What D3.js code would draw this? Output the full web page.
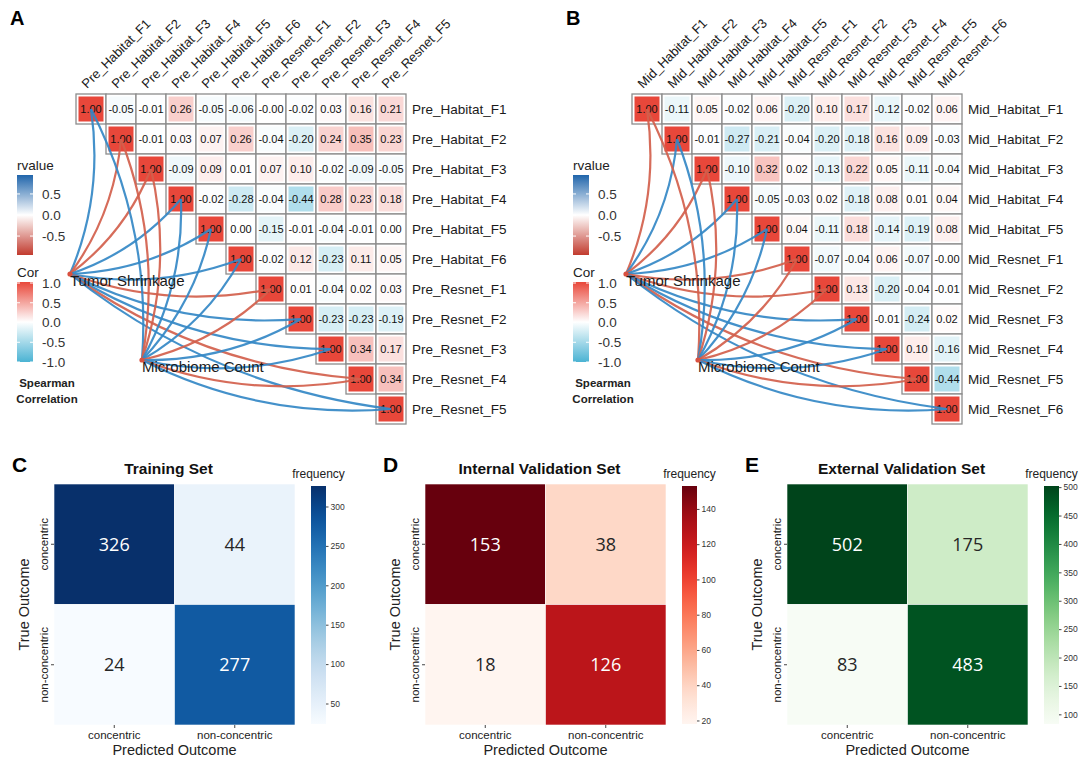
<!DOCTYPE html>
<html>
<head>
<meta charset="utf-8">
<script src="https://cdn.jsdelivr.net/npm/d3@7"></script>
<style>
	body { margin: 0; background: #fff; }
	svg { font-family: "Liberation Sans", Arial, sans-serif; }
</style>
</head>
<body>
<svg id="fig" width="1080" height="763"></svg>
<script>
// ---------- data : panels A and B (feature correlation, upper triangle rows) ----------
var preLabels = [ "Pre_Habitat_F1", "Pre_Habitat_F2", "Pre_Habitat_F3", "Pre_Habitat_F4", "Pre_Habitat_F5", "Pre_Habitat_F6",
	"Pre_Resnet_F1", "Pre_Resnet_F2", "Pre_Resnet_F3", "Pre_Resnet_F4", "Pre_Resnet_F5" ];

var preCor = [
	[ 1.00, -0.05, -0.01, 0.26, -0.05, -0.06, -0, -0.02, 0.03, 0.16, 0.21 ],
	[ 1.00, -0.01, 0.03, 0.07, 0.26, -0.04, -0.20, 0.24, 0.35, 0.23 ],
	[ 1.00, -0.09, 0.09, 0.01, 0.07, 0.10, -0.02, -0.09, -0.05 ],
	[ 1.00, -0.02, -0.28, -0.04, -0.44, 0.28, 0.23, 0.18 ],
	[ 1.00, 0.00, -0.15, -0.01, -0.04, -0.01, 0.00 ],
	[ 1.00, -0.02, 0.12, -0.23, 0.11, 0.05 ],
	[ 1.00, 0.01, -0.04, 0.02, 0.03 ],
	[ 1.00, -0.23, -0.23, -0.19 ],
	[ 1.00, 0.34, 0.17 ],
	[ 1.00, 0.34 ],
	[ 1.00 ]
];

var midLabels = [ "Mid_Habitat_F1", "Mid_Habitat_F2", "Mid_Habitat_F3", "Mid_Habitat_F4", "Mid_Habitat_F5",
	"Mid_Resnet_F1", "Mid_Resnet_F2", "Mid_Resnet_F3", "Mid_Resnet_F4", "Mid_Resnet_F5", "Mid_Resnet_F6" ];

var midCor = [
	[ 1.00, -0.11, 0.05, -0.02, 0.06, -0.20, 0.10, 0.17, -0.12, -0.02, 0.06 ],
	[ 1.00, -0.01, -0.27, -0.21, -0.04, -0.20, -0.18, 0.16, 0.09, -0.03 ],
	[ 1.00, -0.10, 0.32, 0.02, -0.13, 0.22, 0.05, -0.11, -0.04 ],
	[ 1.00, -0.05, -0.03, 0.02, -0.18, 0.08, 0.01, 0.04 ],
	[ 1.00, 0.04, -0.11, 0.18, -0.14, -0.19, 0.08 ],
	[ 1.00, -0.07, -0.04, 0.06, -0.07, -0 ],
	[ 1.00, 0.13, -0.20, -0.04, -0.01 ],
	[ 1.00, -0.01, -0.24, 0.02 ],
	[ 1.00, 0.10, -0.16 ],
	[ 1.00, -0.44 ],
	[ 1.00 ]
];

// links from the two outcomes to each feature (rvalue, estimated from line colour)
var linkNodes = [ "Tumor Shrinkage", "Microbiome Count" ];
var preLinkTumor = [ 0.4, -0.4, -0.4, 0.4, 0.4, 0.4, -0.4, 0.4, 0.4, -0.4, 0.4 ];
var preLinkMicrobe = [ 0.4, -0.4, -0.4, 0.4, 0.4, 0.4, -0.4, 0.4, 0.4, -0.4, 0.4 ];
var midLinkTumor = [ -0.4, 0.4, -0.4, 0.4, 0.4, -0.4, -0.4, 0.4, 0.4, -0.4, 0.4 ];
var midLinkMicrobe = [ -0.4, 0.4, -0.4, 0.4, 0.4, -0.4, -0.4, 0.4, 0.4, -0.4, 0.4 ];

var rvalueTicks = [ -0.5, 0, 0.5 ];
var corTicks = [ -1, -0.5, 0, 0.5, 1 ];

// ---------- data : panels C, D, E (confusion matrices) ----------
var cmLabels = [ "concentric", "non-concentric" ];
var trainCounts = [ [ 326, 44 ], [ 24, 277 ] ];
var internalCounts = [ [ 153, 38 ], [ 18, 126 ] ];
var externalCounts = [ [ 502, 175 ], [ 83, 483 ] ];
var trainTicks = [ 50, 100, 150, 200, 250, 300 ];
var internalTicks = [ 20, 40, 60, 80, 100, 120, 140 ];
var externalTicks = [ 100, 150, 200, 250, 300, 350, 400, 450, 500 ];

var svg = d3.select( "#fig" );
var defs = svg.append( "defs" );

var corColor = d3.scaleLinear()
	.domain( [ -1, 0, 1 ] )
	.range( [ "#4bb3d3", "#ffffff", "#e8473a" ] );

var rvalueColor = d3.scaleLinear()
	.domain( [ -0.95, 0, 0.95 ] )
	.range( [ "#c23b2e", "#ffffff", "#2065ab" ] );

var linkColor = d3.scaleThreshold()
	.domain( [ 0 ] )
	.range( [ "#d3604c", "#3488c6" ] );

function fmt( v ) {
	return ( Object.is( v, -0 ) ? "-" : "" ) + v.toFixed( 2 );
}

function gradient( id, scale, domain ) {
	var lg = defs.append( "linearGradient" )
		.attr( "id", id )
		.attr( "x1", 0 ).attr( "y1", 1 ).attr( "x2", 0 ).attr( "y2", 0 );
	d3.range( 0, 1.0001, 0.1 ).forEach( function( t ) {
		lg.append( "stop" )
			.attr( "offset", t )
			.attr( "stop-color", scale( domain[ 0 ] + t * ( domain[ 1 ] - domain[ 0 ] ) ) );
	} );
}
gradient( "gradR", rvalueColor, [ -0.95, 0.95 ] );
gradient( "gradCor", corColor, [ -1, 1 ] );

// ---------- correlation panel ----------
function corPanel( dx, letter, labels, cor, linkT, linkM ) {
	var g = svg.append( "g" ).attr( "transform", "translate(" + dx + ",0)" );
	var cell = 30, left = 76, top = 94;
	var n = labels.length;

	var x = d3.scaleBand().domain( labels ).range( [ left, left + n * cell ] );
	var y = d3.scaleBand().domain( labels ).range( [ top, top + n * cell ] );

	g.append( "text" )
		.attr( "x", 10 ).attr( "y", 25 )
		.style( "font-size", "20px" ).style( "font-weight", "bold" )
		.text( letter );

	var cells = [];
	cor.forEach( function( row, i ) {
		row.forEach( function( v, k ) {
			cells.push( { r: labels[ i ], c: labels[ i + k ], v: v } );
		} );
	} );

	g.selectAll( ".cellbg" )
		.data( cells )
		.enter().append( "rect" )
		.attr( "x", function( d ) { return x( d.c ); } )
		.attr( "y", function( d ) { return y( d.r ); } )
		.attr( "width", x.bandwidth() )
		.attr( "height", y.bandwidth() )
		.style( "fill", "#fff" )
		.style( "stroke", "#8c8c8c" )
		.style( "stroke-width", 1.3 );

	g.selectAll( ".cellfill" )
		.data( cells )
		.enter().append( "rect" )
		.attr( "x", function( d ) { return x( d.c ) + 2.5; } )
		.attr( "y", function( d ) { return y( d.r ) + 2.5; } )
		.attr( "width", x.bandwidth() - 5 )
		.attr( "height", y.bandwidth() - 5 )
		.style( "fill", function( d ) { return corColor( d.v ); } );

	g.selectAll( ".celltext" )
		.data( cells )
		.enter().append( "text" )
		.attr( "x", function( d ) { return x( d.c ) + x.bandwidth() / 2; } )
		.attr( "y", function( d ) { return y( d.r ) + y.bandwidth() / 2; } )
		.attr( "dy", "0.36em" )
		.attr( "text-anchor", "middle" )
		.style( "font-size", "11px" )
		.style( "fill", "#111" )
		.text( function( d ) { return fmt( d.v ); } );

	// column labels (rotated) and row labels
	g.selectAll( ".collab" )
		.data( labels )
		.enter().append( "text" )
		.attr( "transform", function( d ) {
			return "translate(" + ( x( d ) + cell / 2 - 4 ) + "," + ( top - 5 ) + ") rotate(-45)";
		} )
		.style( "font-size", "13px" )
		.style( "fill", "#1a1a1a" )
		.text( function( d ) { return d; } );

	g.selectAll( ".rowlab" )
		.data( labels )
		.enter().append( "text" )
		.attr( "x", left + n * cell + 6 )
		.attr( "y", function( d ) { return y( d ) + cell / 2; } )
		.attr( "dy", "0.36em" )
		.style( "font-size", "13.5px" )
		.style( "fill", "#1a1a1a" )
		.text( function( d ) { return d; } );

	// links from the outcome nodes to the diagonal
	var nodes = [ { name: linkNodes[ 0 ], x: 70, y: 274, r: linkT }, { name: linkNodes[ 1 ], x: 142, y: 360, r: linkM } ];
	var links = [];
	nodes.forEach( function( nd ) {
		labels.forEach( function( l, i ) {
			links.push( { x0: nd.x, y0: nd.y, x1: x( l ) + cell / 2, y1: y( l ) + cell / 2, r: nd.r[ i ] } );
		} );
	} );

	g.selectAll( ".link" )
		.data( links )
		.enter().append( "path" )
		.attr( "d", function( d ) {
			var ddx = d.x1 - d.x0, ddy = d.y1 - d.y0;
			var k = 0.14;
			var cx = ( d.x0 + d.x1 ) / 2 - ddy * k;
			var cy = ( d.y0 + d.y1 ) / 2 + ddx * k;
			var p = d3.path();
			p.moveTo( d.x0, d.y0 );
			p.quadraticCurveTo( cx, cy, d.x1, d.y1 );
			return p.toString();
		} )
		.style( "fill", "none" )
		.style( "stroke", function( d ) { return linkColor( d.r ); } )
		.style( "stroke-width", 2.2 )
		.style( "stroke-opacity", 0.92 );

	g.selectAll( ".node" )
		.data( nodes )
		.enter().append( "circle" )
		.attr( "cx", function( d ) { return d.x; } )
		.attr( "cy", function( d ) { return d.y; } )
		.attr( "r", 2.6 )
		.style( "fill", "#d9503f" );

	g.selectAll( ".nodelab" )
		.data( nodes )
		.enter().append( "text" )
		.attr( "x", function( d ) { return d.x; } )
		.attr( "y", function( d ) { return d.y + 12; } )
		.style( "font-size", "15px" )
		.style( "fill", "#1a1a1a" )
		.text( function( d ) { return d.name; } );

	// legends
	var lx = 17, bw = 16;
	g.append( "text" ).attr( "x", lx ).attr( "y", 170 ).style( "font-size", "13.5px" ).style( "fill", "#222" ).text( "rvalue" );
	g.append( "rect" ).attr( "x", lx ).attr( "y", 175 ).attr( "width", bw ).attr( "height", 80 ).style( "fill", "url(#gradR)" );
	var ry = d3.scaleLinear().domain( [ -0.95, 0.95 ] ).range( [ 255, 175 ] );
	legendAxis( g, ry, rvalueTicks, lx, bw );

	g.append( "text" ).attr( "x", lx ).attr( "y", 277 ).style( "font-size", "13.5px" ).style( "fill", "#222" ).text( "Cor" );
	g.append( "rect" ).attr( "x", lx ).attr( "y", 282 ).attr( "width", bw ).attr( "height", 80 ).style( "fill", "url(#gradCor)" );
	var cy = d3.scaleLinear().domain( [ -1, 1 ] ).range( [ 362, 283 ] );
	legendAxis( g, cy, corTicks, lx, bw );

	g.append( "text" ).attr( "x", 47 ).attr( "y", 387 ).attr( "text-anchor", "middle" )
		.style( "font-size", "11.5px" ).style( "font-weight", "bold" ).style( "fill", "#222" ).text( "Spearman" );
	g.append( "text" ).attr( "x", 47 ).attr( "y", 403 ).attr( "text-anchor", "middle" )
		.style( "font-size", "11.5px" ).style( "font-weight", "bold" ).style( "fill", "#222" ).text( "Correlation" );
}

function legendAxis( g, scale, ticks, lx, bw ) {
	var ax = g.append( "g" )
		.attr( "transform", "translate(" + ( lx + bw ) + ",0)" )
		.call( d3.axisRight( scale ).tickValues( ticks ).tickSize( 0 ).tickPadding( 9 )
			.tickFormat( function( d ) { return d.toFixed( 1 ); } ) );
	ax.select( ".domain" ).remove();
	ax.selectAll( "text" ).style( "font-size", "13.5px" ).style( "fill", "#333" ).style( "font-family", "Liberation Sans, Arial, sans-serif" );
	g.selectAll( null )
		.data( ticks )
		.enter().append( "line" )
		.attr( "x1", lx ).attr( "x2", lx + 3 )
		.attr( "y1", function( d ) { return scale( d ); } )
		.attr( "y2", function( d ) { return scale( d ); } )
		.style( "stroke", "#fff" );
	g.selectAll( null )
		.data( ticks )
		.enter().append( "line" )
		.attr( "x1", lx + bw - 3 ).attr( "x2", lx + bw )
		.attr( "y1", function( d ) { return scale( d ); } )
		.attr( "y2", function( d ) { return scale( d ); } )
		.style( "stroke", "#fff" );
}

corPanel( 0, "A", preLabels, preCor, preLinkTumor, preLinkMicrobe );
corPanel( 556, "B", midLabels, midCor, midLinkTumor, midLinkMicrobe );

// ---------- confusion matrix panel ----------
function cmPanel( left, letterX, letter, title, counts, interp, ticks ) {
	var g = svg.append( "g" );
	var top = 484, size = 241;

	var x = d3.scaleBand().domain( cmLabels ).range( [ left, left + size ] );
	var y = d3.scaleBand().domain( cmLabels ).range( [ top, top + size ] );

	var flat = [];
	counts.forEach( function( row, i ) {
		row.forEach( function( v, j ) {
			flat.push( { t: cmLabels[ i ], p: cmLabels[ j ], v: v } );
		} );
	} );
	var ext = d3.extent( flat, function( d ) { return d.v; } );
	var color = d3.scaleSequential( interp ).domain( ext );

	g.append( "text" ).attr( "x", letterX ).attr( "y", 472 )
		.style( "font-size", "21px" ).style( "font-weight", "bold" ).text( letter );
	g.append( "text" ).attr( "x", left + size / 2 - 6 ).attr( "y", 474 ).attr( "text-anchor", "middle" )
		.style( "font-size", "15.5px" ).style( "font-weight", "bold" ).style( "fill", "#111" ).text( title );

	g.selectAll( ".cm" )
		.data( flat )
		.enter().append( "rect" )
		.attr( "x", function( d ) { return x( d.p ); } )
		.attr( "y", function( d ) { return y( d.t ); } )
		.attr( "width", x.bandwidth() )
		.attr( "height", y.bandwidth() )
		.style( "fill", function( d ) { return color( d.v ); } )
		.style( "stroke", "#fff" )
		.style( "stroke-width", 0.6 );

	g.selectAll( ".cmtext" )
		.data( flat )
		.enter().append( "text" )
		.attr( "x", function( d ) { return x( d.p ) + x.bandwidth() / 2; } )
		.attr( "y", function( d ) { return y( d.t ) + y.bandwidth() / 2; } )
		.attr( "dy", "0.36em" )
		.attr( "text-anchor", "middle" )
		.style( "font-family", "'Open Sans', 'Noto Sans', sans-serif" )
		.style( "font-size", "18px" )
		.style( "fill", function( d ) { return d.v > ( ext[ 0 ] + ext[ 1 ] ) / 2 ? "#ffffff" : "#262626"; } )
		.text( function( d ) { return d.v; } );

	var xa = g.append( "g" )
		.attr( "transform", "translate(0," + ( top + size ) + ")" )
		.call( d3.axisBottom( x ).tickSize( 3 ).tickPadding( 3 ) );
	xa.select( ".domain" ).remove();
	xa.selectAll( "line" ).style( "stroke", "#444" );
	xa.selectAll( "text" ).style( "font-size", "11.5px" ).style( "fill", "#222" ).style( "font-family", "Liberation Sans, Arial, sans-serif" );

	var ya = g.append( "g" )
		.attr( "transform", "translate(" + left + ",0)" )
		.call( d3.axisLeft( y ).tickSize( 3 ) );
	ya.select( ".domain" ).remove();
	ya.selectAll( "line" ).style( "stroke", "#444" );
	ya.selectAll( "text" )
		.attr( "transform", "rotate(-90)" )
		.attr( "x", 0 ).attr( "y", -6 ).attr( "dy", 0 )
		.attr( "text-anchor", "middle" )
		.style( "font-size", "11.5px" ).style( "fill", "#222" ).style( "font-family", "Liberation Sans, Arial, sans-serif" );

	g.append( "text" ).attr( "x", left + size / 2 ).attr( "y", 755 ).attr( "text-anchor", "middle" )
		.style( "font-size", "14.5px" ).style( "fill", "#222" ).text( "Predicted Outcome" );
	g.append( "text" )
		.attr( "transform", "translate(" + ( left - 25 ) + "," + ( top + size / 2 ) + ") rotate(-90)" )
		.attr( "text-anchor", "middle" )
		.style( "font-size", "14.5px" ).style( "fill", "#222" ).text( "True Outcome" );

	// colorbar
	var cbx = left + size + 16, cbw = 15, cbTop = 486, cbBot = 724;
	var gid = "cm" + letter;
	var lg = defs.append( "linearGradient" ).attr( "id", gid )
		.attr( "x1", 0 ).attr( "y1", 1 ).attr( "x2", 0 ).attr( "y2", 0 );
	d3.range( 0, 1.0001, 0.05 ).forEach( function( t ) {
		lg.append( "stop" ).attr( "offset", t ).attr( "stop-color", interp( t ) );
	} );
	g.append( "rect" ).attr( "x", cbx ).attr( "y", cbTop ).attr( "width", cbw ).attr( "height", cbBot - cbTop )
		.style( "fill", "url(#" + gid + ")" );
	var cs = d3.scaleLinear().domain( ext ).range( [ cbBot, cbTop ] );
	var ca = g.append( "g" )
		.attr( "transform", "translate(" + ( cbx + cbw ) + ",0)" )
		.call( d3.axisRight( cs ).tickValues( ticks ).tickSize( 2.5 ).tickPadding( 2 ) );
	ca.select( ".domain" ).remove();
	ca.selectAll( "line" ).style( "stroke", "#444" );
	ca.selectAll( "text" ).style( "font-size", "8.5px" ).style( "fill", "#333" ).style( "font-family", "Liberation Sans, Arial, sans-serif" );
	g.append( "text" ).attr( "x", cbx + cbw / 2 ).attr( "y", 478 ).attr( "text-anchor", "middle" )
		.style( "font-size", "12px" ).style( "fill", "#222" ).text( "frequency" );
}

cmPanel( 54, 12, "C", "Training Set", trainCounts, d3.interpolateBlues, trainTicks );
cmPanel( 425, 383, "D", "Internal Validation Set", internalCounts, d3.interpolateReds, internalTicks );
cmPanel( 787, 745, "E", "External Validation Set", externalCounts, d3.interpolateGreens, externalTicks );
</script>
</body>
</html>
